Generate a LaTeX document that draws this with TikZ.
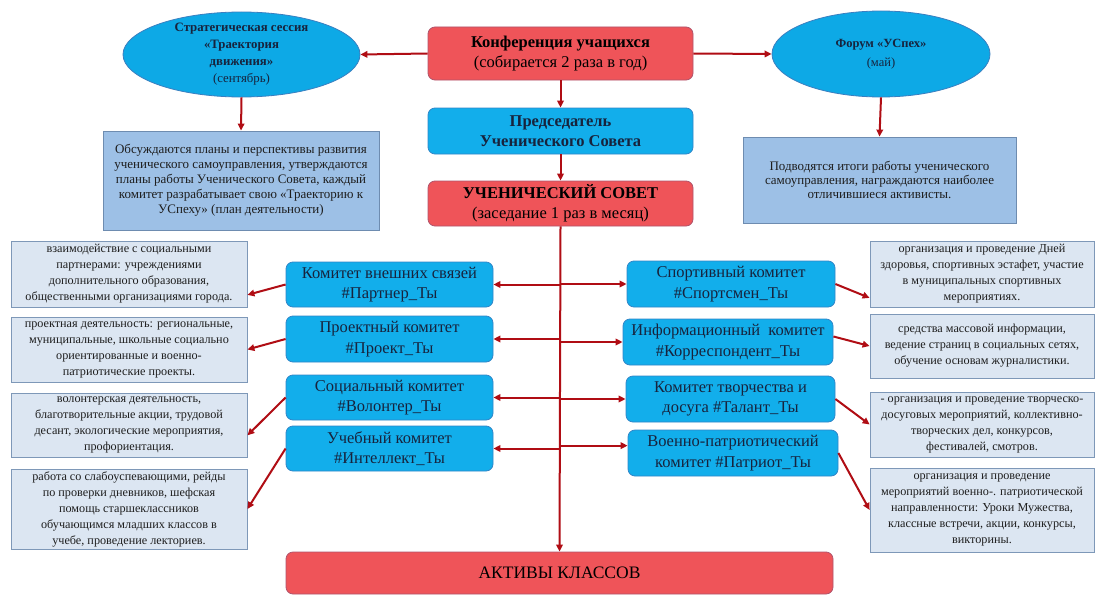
\documentclass[tikz,border=0pt]{standalone}
\usepackage{fontspec}
\setmainfont{Liberation Serif}
\usetikzlibrary{arrows.meta,shapes.geometric}
\definecolor{redfill}{HTML}{EF5459}
\definecolor{redline}{HTML}{B0546C}
\definecolor{cyanfill}{HTML}{12AEEB}
\definecolor{cyanline}{HTML}{3186C8}
\definecolor{ovalfill}{HTML}{0DA9E6}
\definecolor{ovalline}{HTML}{3A7FC0}
\definecolor{notefill}{HTML}{9DC0E6}
\definecolor{noteline}{HTML}{6E8CB0}
\definecolor{infofill}{HTML}{DCE6F2}
\definecolor{infoline}{HTML}{7E98B8}
\definecolor{arrred}{HTML}{B00D14}
\definecolor{navy}{HTML}{17233D}
\definecolor{ink}{HTML}{1E1E1E}
\tikzset{
  redbox/.style={draw=redline, fill=redfill, rounded corners=7pt, line width=0.8pt, align=center, inner sep=0pt, text=black, font=\fontsize{16.5}{20}\selectfont},
  bluebox/.style={draw=cyanline, fill=cyanfill, rounded corners=7pt, line width=0.8pt, align=center, inner sep=0pt, text=navy, font=\fontsize{16.5}{20.5}\selectfont},
  oval/.style={ellipse, draw=ovalline, fill=ovalfill, line width=0.8pt, align=center, inner xsep=0pt, inner ysep=-6pt, text=navy, font=\fontsize{12.8}{17}\selectfont},
  note/.style={draw=noteline, fill=notefill, line width=0.8pt, align=center, inner sep=0pt, text=ink, font=\fontsize{13}{15}\selectfont},
  info/.style={draw=infoline, fill=infofill, line width=0.8pt, align=center, inner sep=0pt, text=ink, font=\fontsize{12.2}{16}\selectfont},
  arr/.style={draw=arrred, line width=2pt, -{Triangle[length=7pt,width=6.5pt]}},
}

\begin{document}
\begin{tikzpicture}[x=1pt,y=-1pt]
  \useasboundingbox[fill=white] (0,0) rectangle (1102,594);

  % top row
  \node[oval, minimum width=237pt, minimum height=85pt] (strat) at (241.5,54.5)
    {\textbf{Стратегическая сессия}\\\textbf{«Траектория}\\\textbf{движения»}\\(сентябрь)};
  \node[redbox, minimum width=265pt, minimum height=53pt] (conf) at (560.5,53.5)
    {\textbf{Конференция учащихся}\\(собирается 2 раза в год)};
  \node[oval, minimum width=218pt, minimum height=86pt, font=\fontsize{12.5}{19}\selectfont] (forum) at (881,54)
    {\textbf{Форум «УСпех»}\\(май)};

  \node[bluebox, minimum width=265pt, minimum height=46pt, font=\fontsize{16.5}{20}\selectfont\bfseries] (chair) at (560.5,131)
    {Председатель\\Ученического Совета};
  \node[note, minimum width=276pt, minimum height=99pt] (stratnote) at (241,180.5)
    {Обсуждаются планы и перспективы развития\\ученического самоуправления, утверждаются\\планы работы Ученического Совета, каждый\\комитет разрабатывает свою «Траекторию к\\УСпеху» (план деятельности)};
  \node[note, minimum width=273pt, minimum height=86pt, font=\fontsize{13}{14}\selectfont] (forumnote) at (879.5,180)
    {Подводятся итоги работы ученического\\самоуправления, награждаются наиболее\\отличившиеся активисты.};
  \node[redbox, minimum width=265pt, minimum height=45pt] (council) at (560.5,203.5)
    {{\bfseries УЧЕНИЧЕСКИЙ СОВЕТ}\\(заседание 1 раз в месяц)};

  % left committees
  \node[bluebox, minimum width=207pt, minimum height=45pt] (partner) at (389.5,284.5) {Комитет внешних связей\\\#Партнер\_Ты};
  \node[bluebox, minimum width=207pt, minimum height=46pt] (project) at (389.5,339) {Проектный комитет\\\#Проект\_Ты};
  \node[bluebox, minimum width=207pt, minimum height=45pt] (volunteer) at (389.5,397.5) {Социальный комитет\\\#Волонтер\_Ты};
  \node[bluebox, minimum width=207pt, minimum height=45pt] (intellect) at (389.5,448.5) {Учебный комитет\\\#Интеллект\_Ты};

  % right committees
  \node[bluebox, minimum width=208pt, minimum height=46pt] (sport) at (731,284) {Спортивный комитет\\\#Спортсмен\_Ты};
  \node[bluebox, minimum width=210pt, minimum height=46pt] (press) at (728,342) {Информационный~~комитет\\\#Корреспондент\_Ты};
  \node[bluebox, minimum width=209pt, minimum height=46pt] (talent) at (730.5,399) {Комитет творчества и\\досуга \#Талант\_Ты};
  \node[bluebox, minimum width=210pt, minimum height=46pt] (patriot) at (733,453) {Военно-патриотический\\комитет \#Патриот\_Ты};

  % left notes
  \node[info, minimum width=236pt, minimum height=66pt] (partnerinfo) at (129,274)
    {взаимодействие с социальными\\партнерами: учреждениями\\дополнительного образования,\\общественными организациями города.};
  \node[info, minimum width=236pt, minimum height=65pt] (projectinfo) at (129,349.5)
    {проектная деятельность: региональные,\\муниципальные, школьные социально\\ориентированные и военно-\\патриотические проекты.};
  \node[info, minimum width=236pt, minimum height=64pt] (volunteerinfo) at (129,425)
    {волонтерская деятельность,\\благотворительные акции, трудовой\\десант, экологические мероприятия,\\профориентация.};
  \node[info, minimum width=236pt, minimum height=80pt] (intellectinfo) at (129,509)
    {работа со слабоуспевающими, рейды\\по проверки дневников, шефская\\помощь старшеклассников\\обучающимся младших классов в\\учебе, проведение лекториев.};

  % right notes
  \node[info, minimum width=224pt, minimum height=66pt] (sportinfo) at (982,274)
    {организация и проведение Дней\\здоровья, спортивных эстафет, участие\\в муниципальных спортивных\\мероприятиях.};
  \node[info, minimum width=224pt, minimum height=64pt] (pressinfo) at (982,346)
    {средства массовой информации,\\ведение страниц в социальных сетях,\\обучение основам журналистики.};
  \node[info, minimum width=224pt, minimum height=65pt] (talentinfo) at (982,424.5)
    {- организация и проведение творческо-\\досуговых мероприятий, коллективно-\\творческих дел, конкурсов,\\фестивалей, смотров.};
  \node[info, minimum width=224pt, minimum height=84pt] (patriotinfo) at (982,510)
    {организация и проведение\\мероприятий военно-. патриотической\\направленности: Уроки Мужества,\\классные встречи, акции, конкурсы,\\викторины.};

  \node[redbox, minimum width=547pt, minimum height=42pt, font=\fontsize{17.5}{20}\selectfont] (classes) at (559.5,573) {АКТИВЫ КЛАССОВ};

  % connectors
  \draw[arr] (conf.west) -- (strat.east);
  \draw[arr] (conf.east) -- (forum.west);
  \draw[arr] (strat.south) -- (stratnote.north);
  \draw[arr] (forum.south) -- (forumnote.north);
  \draw[arr] (conf.south) -- (chair.north);
  \draw[arr] (chair.south) -- (council.north);
  \draw[arr] (council.south) -- (classes.north);

  \foreach \c in {partner,project,volunteer,intellect}
    \draw[arr] (council.south |- \c.east) -- (\c.east);
  \foreach \c in {sport,press,talent}
    \draw[arr] (council.south |- \c.west) -- (\c.west);
  \draw[arr] (council.south |- patriot.176) -- (patriot.176);

  \draw[arr] (partner.west) -- (partnerinfo.-10);
  \draw[arr] (project.west) -- (projectinfo.east);
  \draw[arr] (volunteer.west) -- (volunteerinfo.-5);
  \draw[arr] (intellect.west) -- (intellectinfo.east);
  \draw[arr] (sport.east) -- (sportinfo.192);
  \draw[arr] (press.3) -- (pressinfo.west);
  \draw[arr] (talent.east) -- (talentinfo.west);
  \draw[arr] (patriot.east) -- (patriotinfo.west);
\end{tikzpicture}
\end{document}
